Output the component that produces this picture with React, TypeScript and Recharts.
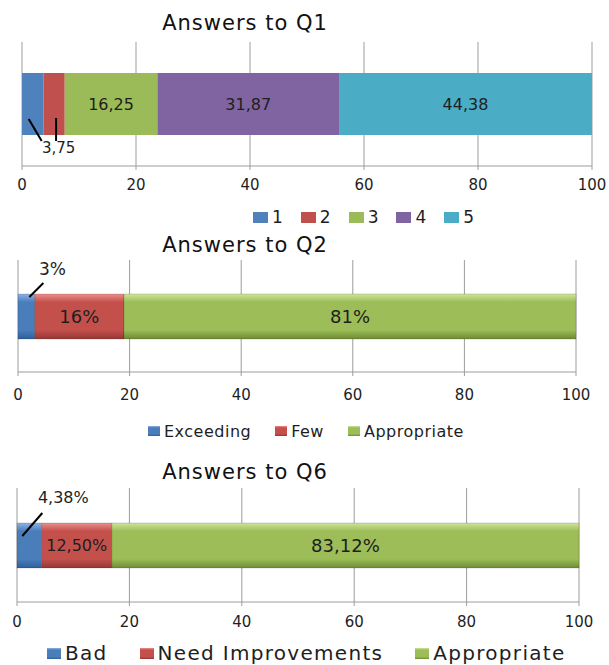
import type { CSSProperties, JSX } from "react";
import { Bar, BarChart, CartesianGrid, LabelList, Legend, XAxis, YAxis } from "recharts";

const q1Categories = ["1", "2", "3", "4", "5"];
const q1Values = [3.75, 3.75, 16.25, 31.87, 44.38];

const q2Categories = ["Exceeding", "Few", "Appropriate"];
const q2Values = [3, 16, 81];

const q6Categories = ["Bad", "Need Improvements", "Appropriate"];
const q6Values = [4.38, 12.5, 83.12];

const xTicks = [0, 20, 40, 60, 80, 100];

const FONT = "'DejaVu Sans', sans-serif";
const GRAY = "#9c9c9c";
const TEXT = "#1e1e1e";

const flatFills = ["#4f81bd", "#c0504d", "#9bbb59", "#8064a2", "#4bacc6"];

// bevelled excel-ish fills: [top, mid, bottom]
const bevelStops: Record<string, [string, string, string]> = {
  blue: ["#8db3e6", "#4a7ebb", "#2d5f9c"],
  red: ["#ec8f8c", "#c4504c", "#943734"],
  green: ["#cfe59a", "#9cbd58", "#6e8b33"],
};
const bevelOrder = ["blue", "red", "green"];

type Callout = {
  series: number;
  text: boolean;
  line: [number, number, number, number];
  at?: [number, number];
  size: number;
};

type LegendLook = {
  top: number;
  left: number;
  font: number;
  spacing: number;
  gap: number;
  box: [number, number];
};

type ChartProps = {
  id: string;
  top: number;
  height: number;
  title: string;
  titleTop: number;
  categories: string[];
  values: number[];
  fills: string[];
  format: (v: number) => string;
  labelSizes: number[];
  callouts: Callout[];
  margin: { top: number; right: number; bottom: number; left: number };
  barSize: number;
  tickMargin: number;
  legend: LegendLook;
  bevel?: boolean;
};

const titleStyle = (top: number): CSSProperties => ({
  position: "absolute",
  left: 95,
  top,
  width: 300,
  textAlign: "center",
  fontFamily: FONT,
  fontSize: 21,
  letterSpacing: 1,
  lineHeight: "24px",
  color: "#111",
});

const makeLegend =
  (order: string[], look: LegendLook) =>
  (props: any): JSX.Element => {
    const items = [...(props.payload || [])].sort(
      (a: any, b: any) => order.indexOf(a.value) - order.indexOf(b.value),
    );
    return (
      <div
        style={{
          display: "flex",
          alignItems: "center",
          height: 20,
          fontFamily: FONT,
          fontSize: look.font,
          letterSpacing: look.spacing,
          color: TEXT,
          whiteSpace: "nowrap",
        }}
      >
        {items.map((p: any) => (
          <div key={p.value} style={{ display: "flex", alignItems: "center", marginRight: look.gap }}>
            <svg width={look.box[0]} height={look.box[1]} style={{ marginRight: 4 }}>
              <rect width={look.box[0]} height={look.box[1]} fill={p.color} />
            </svg>
            <span>{p.value}</span>
          </div>
        ))}
      </div>
    );
  };

const StackedChart = (c: ChartProps): JSX.Element => {
  const row: Record<string, number | string> = { name: c.title };
  c.values.forEach((v, i) => {
    row[`s${i}`] = v;
  });

  const renderLabel = (i: number) => (props: any) => {
    const vb = props.viewBox || {};
    const x = Number(props.x ?? vb.x);
    const y = Number(props.y ?? vb.y);
    const w = Number(props.width ?? vb.width);
    const h = Number(props.height ?? vb.height);
    const cx = x + w / 2;
    const text = c.format(c.values[i]);
    const co = c.callouts.find((k) => k.series === i);
    if (co) {
      return (
        <g>
          <line x1={cx + co.line[0]} y1={y + co.line[1]} x2={cx + co.line[2]} y2={y + co.line[3]} stroke="#000" strokeWidth={2} />
          {co.text && co.at && (
            <text x={cx + co.at[0]} y={y + co.at[1]} textAnchor="middle" dominantBaseline="central" fontFamily={FONT} fontSize={co.size} fill={TEXT}>
              {text}
            </text>
          )}
        </g>
      );
    }
    return (
      <text x={cx} y={y + h / 2} textAnchor="middle" dominantBaseline="central" fontFamily={FONT} fontSize={c.labelSizes[i]} fill={TEXT}>
        {text}
      </text>
    );
  };

  return (
    <div style={{ position: "absolute", left: 0, top: c.top, width: 609, height: c.height }}>
      <div style={titleStyle(c.titleTop)}>{c.title}</div>
      <BarChart width={609} height={c.height} data={[row]} layout="vertical" margin={c.margin} barSize={c.barSize}>
        {c.bevel && (
          <defs>
            {Object.entries(bevelStops).map(([k, s]) => (
              <linearGradient key={k} id={`${c.id}-${k}`} x1="0" y1="0" x2="0" y2="1">
                <stop offset="0%" stopColor={s[0]} />
                <stop offset="18%" stopColor={s[1]} />
                <stop offset="80%" stopColor={s[1]} />
                <stop offset="100%" stopColor={s[2]} />
              </linearGradient>
            ))}
          </defs>
        )}
        <CartesianGrid horizontal={false} stroke={GRAY} />
        <XAxis
          type="number"
          domain={[0, 100]}
          ticks={xTicks}
          interval={0}
          height={30}
          tickSize={4}
          tickMargin={c.tickMargin}
          axisLine={{ stroke: GRAY }}
          tickLine={{ stroke: GRAY }}
          tick={{ fill: TEXT, fontFamily: FONT, fontSize: 15 }}
        />
        <YAxis type="category" dataKey="name" hide />
        <Legend
          content={makeLegend(c.categories, c.legend)}
          wrapperStyle={{ top: c.legend.top, left: c.legend.left, width: 560, height: 20 }}
        />
        {c.categories.map((cat, i) => (
          <Bar
            key={cat}
            dataKey={`s${i}`}
            name={cat}
            stackId="a"
            fill={c.bevel ? `url(#${c.id}-${bevelOrder[i]})` : c.fills[i]}
            stroke={c.bevel ? "rgba(0,0,0,0.15)" : undefined}
            isAnimationActive={false}
          >
            <LabelList dataKey={`s${i}`} content={renderLabel(i)} />
          </Bar>
        ))}
      </BarChart>
    </div>
  );
};

const comma = (v: number) => v.toFixed(2).replace(".", ",");

export default function App(): JSX.Element {
  return (
    <div style={{ position: "absolute", left: 0, top: 0, width: 609, height: 665, background: "#fff", overflow: "hidden" }}>
      <StackedChart
        id="q1"
        top={0}
        height={232}
        title="Answers to Q1"
        titleTop={11}
        categories={q1Categories}
        values={q1Values}
        fills={flatFills}
        format={comma}
        labelSizes={[15, 15, 16, 16, 16]}
        callouts={[
          { series: 0, text: true, line: [-4, 46, 9, 68], at: [26, 75], size: 15 },
          { series: 1, text: false, line: [2, 45, 2, 68], size: 15 },
        ]}
        margin={{ top: 42, right: 17, bottom: 16, left: 22 }}
        barSize={62}
        tickMargin={9}
        legend={{ top: 207, left: 253, font: 17, spacing: 0, gap: 18, box: [15, 11] }}
      />
      <StackedChart
        id="q2"
        top={232}
        height={215}
        title="Answers to Q2"
        titleTop={1}
        categories={q2Categories}
        values={q2Values}
        fills={flatFills}
        format={(v) => `${v}%`}
        labelSizes={[17, 18, 18]}
        callouts={[{ series: 0, text: true, line: [3, 3, 17, -11], at: [26, -25], size: 17 }]}
        margin={{ top: 28, right: 33, bottom: 25, left: 18 }}
        barSize={45}
        tickMargin={13}
        legend={{ top: 189, left: 148, font: 16, spacing: 0.5, gap: 24, box: [12, 10] }}
        bevel
      />
      <StackedChart
        id="q6"
        top={447}
        height={218}
        title="Answers to Q6"
        titleTop={13}
        categories={q6Categories}
        values={q6Values}
        fills={flatFills}
        format={(v) => `${comma(v)}%`}
        labelSizes={[16, 16, 18]}
        callouts={[{ series: 0, text: true, line: [-7, 13, 13, -10], at: [34, -26], size: 16 }]}
        margin={{ top: 41, right: 30, bottom: 13, left: 17 }}
        barSize={45}
        tickMargin={10}
        legend={{ top: 196, left: 47, font: 20, spacing: 1.3, gap: 32, box: [14, 11] }}
        bevel
      />
    </div>
  );
}
